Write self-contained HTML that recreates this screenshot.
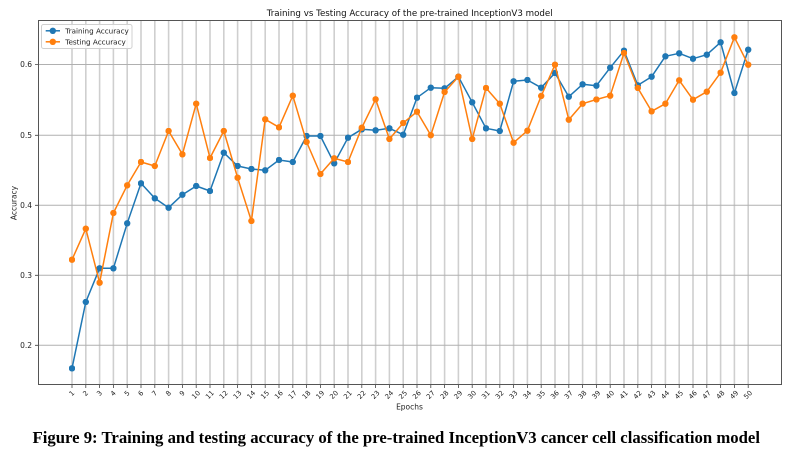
<!DOCTYPE html>
<html><head><meta charset="utf-8"><style>
html,body{margin:0;padding:0;background:#fff;}
svg{display:block;}
</style></head><body>
<svg width="791" height="457" viewBox="0 0 791 457" xmlns="http://www.w3.org/2000/svg" font-family="'DejaVu Sans','Liberation Sans',sans-serif">
<defs>
<marker id="mb" viewBox="0 0 8 8" refX="4" refY="4" markerWidth="6.4" markerHeight="6.4" markerUnits="userSpaceOnUse"><circle cx="4" cy="4" r="4" fill="#1f77b4"/></marker>
<marker id="mo" viewBox="0 0 8 8" refX="4" refY="4" markerWidth="6.4" markerHeight="6.4" markerUnits="userSpaceOnUse"><circle cx="4" cy="4" r="4" fill="#ff7f0e"/></marker>
</defs>
<rect width="791" height="457" fill="#fff"/>
<!-- vertical grid -->
<path stroke="#cfcfcf" stroke-width="1.6" fill="none" d="M72,20.5V384M85.8,20.5V384M99.6,20.5V384M113.4,20.5V384M127.2,20.5V384M141,20.5V384M154.8,20.5V384M168.6,20.5V384M182.4,20.5V384M196.2,20.5V384M210,20.5V384M223.8,20.5V384M237.6,20.5V384M251.4,20.5V384M265.2,20.5V384M279,20.5V384M292.8,20.5V384M306.6,20.5V384M320.4,20.5V384M334.2,20.5V384M348,20.5V384M361.8,20.5V384M375.6,20.5V384M389.4,20.5V384M403.2,20.5V384M417,20.5V384M430.8,20.5V384M444.6,20.5V384M458.4,20.5V384M472.2,20.5V384M486,20.5V384M499.8,20.5V384M513.6,20.5V384M527.4,20.5V384M541.2,20.5V384M555,20.5V384M568.8,20.5V384M582.6,20.5V384M596.4,20.5V384M610.2,20.5V384M624,20.5V384M637.8,20.5V384M651.6,20.5V384M665.4,20.5V384M679.2,20.5V384M693,20.5V384M706.8,20.5V384M720.6,20.5V384M734.4,20.5V384M748.2,20.5V384"/>
<!-- horizontal grid -->
<path stroke="#b0b0b0" stroke-width="1" fill="none" d="M38.5,64.5H781.5M38.5,135.3H781.5M38.5,205.3H781.5M38.5,275.3H781.5M38.5,345.3H781.5"/>
<!-- x ticks -->
<path stroke="#444" stroke-width="0.8" fill="none" d="M72,384.5v3.5M85.8,384.5v3.5M99.6,384.5v3.5M113.4,384.5v3.5M127.2,384.5v3.5M141,384.5v3.5M154.8,384.5v3.5M168.6,384.5v3.5M182.4,384.5v3.5M196.2,384.5v3.5M210,384.5v3.5M223.8,384.5v3.5M237.6,384.5v3.5M251.4,384.5v3.5M265.2,384.5v3.5M279,384.5v3.5M292.8,384.5v3.5M306.6,384.5v3.5M320.4,384.5v3.5M334.2,384.5v3.5M348,384.5v3.5M361.8,384.5v3.5M375.6,384.5v3.5M389.4,384.5v3.5M403.2,384.5v3.5M417,384.5v3.5M430.8,384.5v3.5M444.6,384.5v3.5M458.4,384.5v3.5M472.2,384.5v3.5M486,384.5v3.5M499.8,384.5v3.5M513.6,384.5v3.5M527.4,384.5v3.5M541.2,384.5v3.5M555,384.5v3.5M568.8,384.5v3.5M582.6,384.5v3.5M596.4,384.5v3.5M610.2,384.5v3.5M624,384.5v3.5M637.8,384.5v3.5M651.6,384.5v3.5M665.4,384.5v3.5M679.2,384.5v3.5M693,384.5v3.5M706.8,384.5v3.5M720.6,384.5v3.5M734.4,384.5v3.5M748.2,384.5v3.5"/>
<!-- y ticks -->
<path stroke="#444" stroke-width="0.8" fill="none" d="M35,64.5h3.5M35,135.3h3.5M35,205.3h3.5M35,275.3h3.5M35,345.3h3.5"/>
<!-- frame -->
<rect x="38.5" y="20.5" width="743" height="364" fill="none" stroke="#555" stroke-width="1"/>
<!-- y tick labels -->
<g font-size="7.5" fill="#222" text-anchor="end" dominant-baseline="central">
<text x="32" y="64.5">0.6</text>
<text x="32" y="135.3">0.5</text>
<text x="32" y="205.3">0.4</text>
<text x="32" y="275.3">0.3</text>
<text x="32" y="345.3">0.2</text>
</g>
<!-- x tick labels -->
<g font-size="6.8" fill="#222" text-anchor="middle" dominant-baseline="central">
<text x="72" y="393.5" transform="rotate(-45 72 393.5)">1</text>
<text x="85.8" y="393.5" transform="rotate(-45 85.8 393.5)">2</text>
<text x="99.6" y="393.5" transform="rotate(-45 99.6 393.5)">3</text>
<text x="113.4" y="393.5" transform="rotate(-45 113.4 393.5)">4</text>
<text x="127.2" y="393.5" transform="rotate(-45 127.2 393.5)">5</text>
<text x="141" y="393.5" transform="rotate(-45 141 393.5)">6</text>
<text x="154.8" y="393.5" transform="rotate(-45 154.8 393.5)">7</text>
<text x="168.6" y="393.5" transform="rotate(-45 168.6 393.5)">8</text>
<text x="182.4" y="393.5" transform="rotate(-45 182.4 393.5)">9</text>
<text x="196.2" y="395" transform="rotate(-45 196.2 395)">10</text>
<text x="210" y="395" transform="rotate(-45 210 395)">11</text>
<text x="223.8" y="395" transform="rotate(-45 223.8 395)">12</text>
<text x="237.6" y="395" transform="rotate(-45 237.6 395)">13</text>
<text x="251.4" y="395" transform="rotate(-45 251.4 395)">14</text>
<text x="265.2" y="395" transform="rotate(-45 265.2 395)">15</text>
<text x="279" y="395" transform="rotate(-45 279 395)">16</text>
<text x="292.8" y="395" transform="rotate(-45 292.8 395)">17</text>
<text x="306.6" y="395" transform="rotate(-45 306.6 395)">18</text>
<text x="320.4" y="395" transform="rotate(-45 320.4 395)">19</text>
<text x="334.2" y="395" transform="rotate(-45 334.2 395)">20</text>
<text x="348" y="395" transform="rotate(-45 348 395)">21</text>
<text x="361.8" y="395" transform="rotate(-45 361.8 395)">22</text>
<text x="375.6" y="395" transform="rotate(-45 375.6 395)">23</text>
<text x="389.4" y="395" transform="rotate(-45 389.4 395)">24</text>
<text x="403.2" y="395" transform="rotate(-45 403.2 395)">25</text>
<text x="417" y="395" transform="rotate(-45 417 395)">26</text>
<text x="430.8" y="395" transform="rotate(-45 430.8 395)">27</text>
<text x="444.6" y="395" transform="rotate(-45 444.6 395)">28</text>
<text x="458.4" y="395" transform="rotate(-45 458.4 395)">29</text>
<text x="472.2" y="395" transform="rotate(-45 472.2 395)">30</text>
<text x="486" y="395" transform="rotate(-45 486 395)">31</text>
<text x="499.8" y="395" transform="rotate(-45 499.8 395)">32</text>
<text x="513.6" y="395" transform="rotate(-45 513.6 395)">33</text>
<text x="527.4" y="395" transform="rotate(-45 527.4 395)">34</text>
<text x="541.2" y="395" transform="rotate(-45 541.2 395)">35</text>
<text x="555" y="395" transform="rotate(-45 555 395)">36</text>
<text x="568.8" y="395" transform="rotate(-45 568.8 395)">37</text>
<text x="582.6" y="395" transform="rotate(-45 582.6 395)">38</text>
<text x="596.4" y="395" transform="rotate(-45 596.4 395)">39</text>
<text x="610.2" y="395" transform="rotate(-45 610.2 395)">40</text>
<text x="624" y="395" transform="rotate(-45 624 395)">41</text>
<text x="637.8" y="395" transform="rotate(-45 637.8 395)">42</text>
<text x="651.6" y="395" transform="rotate(-45 651.6 395)">43</text>
<text x="665.4" y="395" transform="rotate(-45 665.4 395)">44</text>
<text x="679.2" y="395" transform="rotate(-45 679.2 395)">45</text>
<text x="693" y="395" transform="rotate(-45 693 395)">46</text>
<text x="706.8" y="395" transform="rotate(-45 706.8 395)">47</text>
<text x="720.6" y="395" transform="rotate(-45 720.6 395)">48</text>
<text x="734.4" y="395" transform="rotate(-45 734.4 395)">49</text>
<text x="748.2" y="395" transform="rotate(-45 748.2 395)">50</text>
</g>
<!-- axis labels -->
<text x="409.5" y="409.5" font-size="7.5" fill="#222" text-anchor="middle">Epochs</text>
<text x="0" y="0" font-size="7.5" fill="#222" text-anchor="middle" transform="translate(16.5 203) rotate(-90)">Accuracy</text>
<!-- title -->
<text x="409.7" y="16" font-size="8.7" fill="#111" text-anchor="middle" textLength="286" lengthAdjust="spacingAndGlyphs">Training vs Testing Accuracy of the pre-trained InceptionV3 model</text>
<!-- training series -->
<polyline fill="none" stroke="#1f77b4" stroke-width="1.5" stroke-linejoin="round" marker-start="url(#mb)" marker-mid="url(#mb)" marker-end="url(#mb)" points="72,368.3 85.8,302 99.6,268.3 113.4,268.3 127.2,223.3 141,183.3 154.8,198.3 168.6,207.7 182.4,194.7 196.2,186 210,191 223.8,152.7 237.6,166 251.4,169 265.2,170.3 279,160 292.8,162 306.6,136 320.4,136 334.2,163.3 348,137.7 361.8,129.3 375.6,130.3 389.4,128.3 403.2,134.7 417,97.7 430.8,87.7 444.6,88.3 458.4,76.7 472.2,102.3 486,128.3 499.8,131 513.6,81.3 527.4,80 541.2,87.7 555,73 568.8,96.7 582.6,84.3 596.4,85.7 610.2,67.7 624,50.7 637.8,85.3 651.6,76.7 665.4,56.3 679.2,53.3 693,58.7 706.8,54.7 720.6,42.3 734.4,93 748.2,49.7"/>
<!-- testing series -->
<polyline fill="none" stroke="#ff7f0e" stroke-width="1.5" stroke-linejoin="round" marker-start="url(#mo)" marker-mid="url(#mo)" marker-end="url(#mo)" points="72,259.7 85.8,228.7 99.6,282.7 113.4,213 127.2,185.3 141,162 154.8,166 168.6,131 182.4,154.3 196.2,103.7 210,158 223.8,131 237.6,177.7 251.4,221 265.2,119.3 279,127.3 292.8,95.7 306.6,142 320.4,174 334.2,158.3 348,162 361.8,127.7 375.6,99.3 389.4,139 403.2,123 417,111.7 430.8,135.2 444.6,92 458.4,76.7 472.2,139 486,88 499.8,103.7 513.6,142.7 527.4,130.7 541.2,96 555,64.7 568.8,119.7 582.6,103.7 596.4,99.5 610.2,95.7 624,53 637.8,88 651.6,111.3 665.4,103.7 679.2,80.3 693,99.7 706.8,91.7 720.6,72.7 734.4,37.3 748.2,64.7"/>
<!-- legend -->
<rect x="41.5" y="24.5" width="90.5" height="24" rx="2" ry="2" fill="#fff" fill-opacity="0.85" stroke="#d0d0d0" stroke-width="1"/>
<line x1="45.7" y1="30.8" x2="60" y2="30.8" stroke="#1f77b4" stroke-width="1.5"/>
<circle cx="52.8" cy="30.8" r="3.2" fill="#1f77b4"/>
<line x1="45.7" y1="41.8" x2="60" y2="41.8" stroke="#ff7f0e" stroke-width="1.5"/>
<circle cx="52.8" cy="41.8" r="3.2" fill="#ff7f0e"/>
<g font-size="7.2" fill="#222" dominant-baseline="central">
<text x="65.3" y="30.8" textLength="63.5" lengthAdjust="spacingAndGlyphs">Training Accuracy</text>
<text x="65.3" y="41.8" textLength="60.5" lengthAdjust="spacingAndGlyphs">Testing Accuracy</text>
</g>
<!-- caption -->
<text x="32.5" y="443" font-family="'Liberation Serif','Times New Roman',serif" font-weight="bold" font-size="16.5" fill="#000" textLength="727.5" lengthAdjust="spacingAndGlyphs">Figure 9: Training and testing accuracy of the pre-trained InceptionV3 cancer cell classification model</text>
</svg>
</body></html>
